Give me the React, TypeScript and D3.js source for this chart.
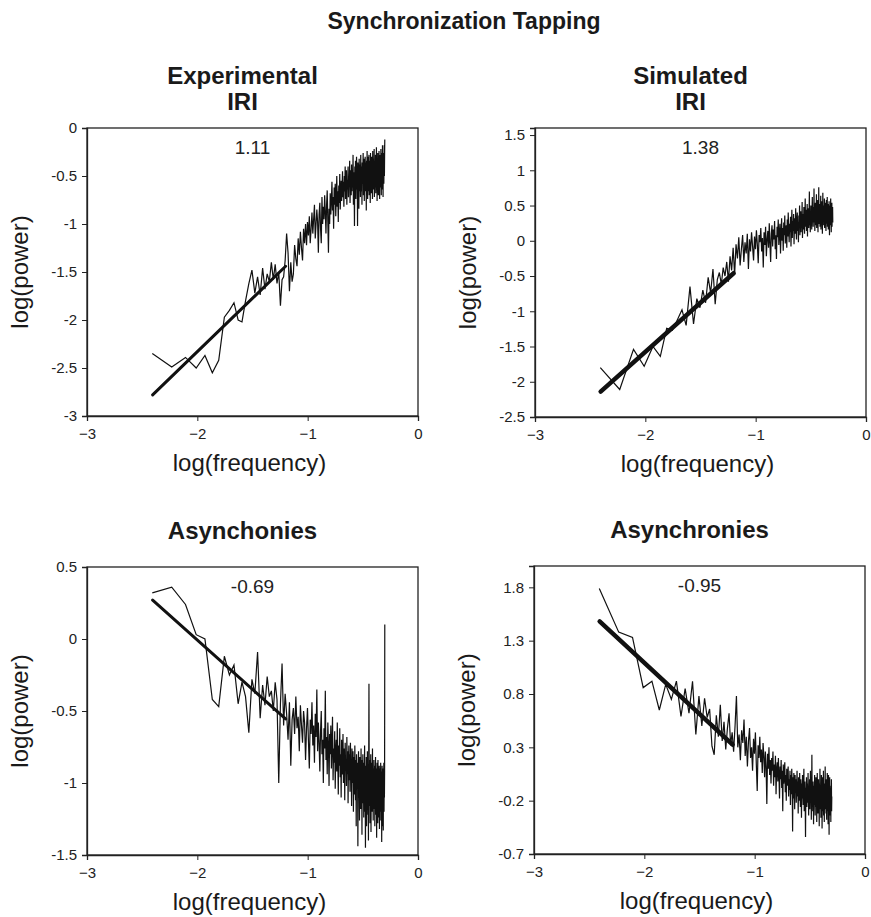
import React, { useEffect, useRef } from 'react';
import * as d3 from 'd3';

// spectral bins k = 2..256 of a 512-point series (x = log10(k / 512))
const binIndex = d3.range(2, 257);
const N_POINTS = 512;

// log(power), one value per bin
const expIRI = [
  -2.35, -2.49, -2.39, -2.50, -2.37, -2.55, -2.42, -1.97,
  -1.90, -1.82, -2.00, -2.02, -1.80, -1.62, -1.48, -1.72,
  -1.55, -1.74, -1.46, -1.68, -1.52, -1.60, -1.40, -1.58,
  -1.42, -1.62, -1.50, -1.85, -1.58, -1.55, -1.38, -1.10,
  -1.30, -1.70, -1.40, -1.60, -1.52, -1.22, -1.36, -1.44,
  -1.15, -1.32, -1.08, -1.25, -1.38, -1.05, -1.20, -1.00,
  -1.22, -0.98, -1.12, -0.92, -1.20, -1.05, -0.88, -1.10,
  -0.95, -0.80, -1.15, -1.00, -0.85, -0.98, -1.30, -0.90,
  -0.78, -1.05, -1.20, -0.72, -1.00, -0.82, -0.95, -0.70,
  -0.88, -1.10, -0.80, -0.65, -0.98, -1.30, -0.84, -1.00,
  -0.68, -0.90, -0.75, -0.56, -0.86, -0.72, -1.05, -0.62,
  -0.80, -0.58, -0.92, -0.72, -0.50, -0.82, -0.66, -0.98,
  -0.60, -0.78, -0.48, -0.85, -0.68, -0.55, -0.76, -0.62,
  -0.45, -0.72, -0.56, -0.82, -0.50, -0.66, -0.40, -0.74,
  -0.58, -0.44, -0.80, -0.54, -0.64, -0.40, -0.72, -0.50,
  -0.60, -0.34, -0.78, -0.52, -0.44, -0.70, -0.38, -0.66,
  -0.48, -0.62, -0.28, -0.80, -0.46, -0.58, -1.02, -0.40,
  -0.66, -0.34, -0.74, -0.50, -0.30, -0.64, -0.45, -1.02,
  -0.36, -0.60, -0.44, -0.84, -0.32, -0.66, -0.48, -0.38,
  -0.72, -0.28, -0.54, -0.66, -0.40, -0.80, -0.36, -0.58,
  -0.44, -0.26, -0.70, -0.50, -0.32, -0.76, -0.42, -0.60,
  -0.30, -0.66, -0.46, -0.36, -0.86, -0.34, -0.62, -0.24,
  -0.54, -0.74, -0.40, -0.30, -0.66, -0.46, -0.28, -0.70,
  -0.42, -0.58, -0.34, -0.78, -0.26, -0.52, -0.64, -0.36,
  -0.68, -0.30, -0.56, -0.44, -0.74, -0.24, -0.60, -0.40,
  -0.32, -0.64, -0.48, -0.22, -0.72, -0.42, -0.34, -0.62,
  -0.46, -0.28, -0.68, -0.38, -0.56, -0.20, -0.64, -0.40,
  -0.76, -0.32, -0.50, -0.26, -0.60, -0.42, -0.70, -0.30,
  -0.48, -0.24, -0.66, -0.38, -0.74, -0.28, -0.56, -0.44,
  -0.34, -0.62, -0.22, -0.50, -0.70, -0.32, -0.44, -0.26,
  -0.64, -0.42, -0.18, -0.54, -0.36, -0.72, -0.30, -0.48,
  -0.26, -0.58, -0.38, -0.18, -0.50, -0.28, -0.12
];

const simIRI = [
  -1.80, -2.11, -1.54, -1.78, -1.50, -1.64, -1.24, -1.27,
  -1.12, -0.98, -1.20, -0.65, -1.18, -0.82, -0.95, -0.70,
  -0.88, -0.52, -0.74, -0.40, -0.90, -0.55, -0.45, -0.62,
  -0.38, -0.50, -0.30, -0.58, -0.22, -0.42, -0.10, -0.48,
  -0.05, -0.25, 0.05, -0.35, -0.12, 0.08, -0.30, -0.02,
  -0.18, 0.10, -0.40, 0.02, -0.15, 0.12, -0.08, -0.28,
  0.06, -0.12, 0.15, -0.05, -0.32, 0.08, -0.02, 0.18,
  -0.15, 0.04, -0.38, 0.12, -0.06, 0.20, -0.22, 0.02,
  0.14, -0.10, 0.25, -0.04, -0.30, 0.10, 0.22, -0.08,
  0.16, 0.02, 0.28, -0.12, 0.08, -0.26, 0.20, 0.05,
  0.30, -0.06, 0.12, 0.24, -0.18, 0.10, 0.32, 0.00,
  0.18, -0.14, 0.26, 0.08, 0.36, -0.04, 0.14, 0.22,
  -0.10, 0.30, 0.06, 0.40, 0.16, -0.02, 0.24, 0.12,
  0.34, -0.08, 0.20, 0.44, 0.04, 0.28, 0.14, 0.38,
  -0.05, 0.22, 0.32, 0.10, 0.46, 0.18, 0.02, 0.30,
  0.40, 0.14, 0.26, -0.02, 0.36, 0.20, 0.50, 0.08,
  0.28, 0.42, 0.12, 0.34, 0.22, 0.55, 0.04, 0.30,
  0.38, 0.16, 0.48, 0.24, 0.10, 0.36, 0.60, 0.20,
  0.32, 0.44, 0.14, 0.28, 0.52, 0.06, 0.38, 0.26,
  0.46, 0.18, 0.34, 0.70, 0.22, 0.40, 0.12, 0.30,
  0.50, 0.24, 0.36, 0.16, 0.44, 0.62, 0.28, 0.38,
  0.20, 0.48, 0.32, 0.74, 0.26, 0.42, 0.14, 0.36,
  0.54, 0.22, 0.40, 0.30, 0.66, 0.18, 0.46, 0.34,
  0.28, 0.58, 0.12, 0.44, 0.36, 0.76, 0.24, 0.40,
  0.32, 0.52, 0.20, 0.46, 0.30, 0.64, 0.16, 0.38,
  0.48, 0.26, 0.56, 0.34, 0.10, 0.42, 0.68, 0.28,
  0.36, 0.50, 0.22, 0.44, 0.32, 0.60, 0.18, 0.40,
  0.30, 0.54, 0.26, 0.46, 0.14, 0.38, 0.58, 0.24,
  0.42, 0.34, 0.62, 0.20, 0.48, 0.30, 0.52, 0.16,
  0.36, 0.44, 0.26, 0.56, 0.32, 0.08, 0.40, 0.50,
  0.22, 0.46, 0.34, 0.60, 0.28, 0.38, 0.12, 0.44,
  0.30, 0.54, 0.20, 0.42, 0.36, 0.48, 0.26
];

const expAsync = [
  0.32, 0.36, 0.24, 0.03, 0.00, -0.42, -0.47, -0.12,
  -0.25, -0.18, -0.45, -0.30, -0.40, -0.65, -0.28, -0.38,
  -0.09, -0.55, -0.32, -0.46, -0.26, -0.40, -0.36, -0.50,
  -0.30, -0.42, -1.00, -0.45, -0.17, -0.60, -0.38, -0.52,
  -0.70, -0.44, -0.88, -0.56, -0.48, -0.66, -0.40, -0.62,
  -0.54, -0.78, -0.46, -0.60, -0.72, -0.50, -0.58, -0.84,
  -0.62, -0.48, -0.70, -0.90, -0.56, -0.66, -0.44, -0.74,
  -0.60, -0.86, -0.52, -0.68, -0.35, -0.78, -0.58, -0.72,
  -0.92, -0.64, -0.50, -0.80, -0.70, -1.00, -0.62, -0.76,
  -0.36, -0.84, -0.68, -0.94, -0.58, -0.74, -1.02, -0.66,
  -0.80, -0.60, -0.90, -0.72, -0.54, -0.98, -0.76, -0.86,
  -0.64, -1.04, -0.78, -0.70, -0.92, -0.58, -0.84, -1.08,
  -0.74, -0.88, -0.62, -0.96, -0.80, -1.10, -0.70, -0.86,
  -0.94, -0.66, -1.00, -0.82, -0.76, -1.12, -0.72, -0.90,
  -0.84, -1.02, -0.68, -0.94, -0.78, -1.14, -0.86, -0.74,
  -0.98, -0.80, -1.06, -0.72, -0.92, -0.84, -1.16, -0.76,
  -0.88, -1.00, -0.78, -1.20, -0.90, -0.82, -1.08, -0.74,
  -0.96, -1.12, -0.84, -1.30, -0.80, -0.98, -1.04, -0.86,
  -1.44, -0.92, -0.78, -1.10, -0.94, -1.26, -0.82, -1.02,
  -0.88, -1.18, -0.76, -1.06, -0.90, -1.36, -0.84, -1.00,
  -0.80, -1.14, -0.92, -1.24, -0.86, -1.04, -0.74, -1.20,
  -0.96, -1.45, -0.88, -1.08, -0.82, -1.30, -0.94, -1.12,
  -0.78, -1.02, -1.22, -0.90, -1.40, -0.86, -0.31, -0.98,
  -1.16, -0.84, -1.28, -0.94, -1.04, -0.80, -1.34, -0.92,
  -1.10, -0.86, -1.20, -0.98, -0.76, -1.14, -0.90, -1.26,
  -0.96, -1.08, -0.84, -1.00, -1.18, -0.88, -1.30, -0.94,
  -1.06, -0.82, -1.22, -0.96, -1.12, -0.90, -1.38, -1.00,
  -0.86, -1.16, -0.94, -1.28, -0.84, -1.08, -0.98, -1.24,
  -0.92, -1.14, -0.88, -1.32, -1.02, -0.96, -1.20, -0.90,
  -1.10, -0.86, -1.26, -0.98, -1.06, -0.92, -1.41, -1.00,
  -0.88, -1.18, -0.96, -1.30, -0.90, -1.12, -1.33, -0.94,
  -1.04, -0.86, -1.20, -0.98, -1.10, -0.92, 0.10
];

const simAsync = [
  1.79, 1.38, 1.33, 0.86, 0.92, 0.65, 0.89, 0.75,
  0.92, 0.59, 0.85, 0.62, 0.92, 0.42, 0.78, 0.50,
  0.76, 0.58, 0.66, 0.31, 0.23, 0.60, 0.40, 0.70,
  0.36, 0.54, 0.28, 0.48, 0.62, 0.32, 0.44, 0.26,
  0.50, 0.78, 0.30, 0.42, 0.18, 0.46, 0.34, 0.56,
  0.22, 0.40, 0.12, 0.36, 0.48, 0.20, 0.30, 0.08,
  0.38, 0.24, 0.44, 0.14, -0.11, 0.32, 0.20, 0.40,
  0.16, 0.28, 0.06, 0.34, 0.22, 0.02, 0.26, 0.12,
  -0.23, 0.24, 0.10, 0.30, 0.04, 0.18, -0.04, 0.20,
  0.08, 0.26, -0.06, 0.14, 0.02, 0.22, -0.14, 0.10,
  0.16, -0.02, 0.20, 0.04, -0.18, 0.12, 0.00, 0.18,
  -0.08, 0.08, -0.30, 0.14, -0.04, 0.06, 0.16, -0.12,
  0.04, -0.20, 0.10, -0.06, 0.02, 0.12, -0.16, 0.00,
  -0.10, 0.08, -0.24, 0.04, -0.14, 0.10, -0.04, -0.49,
  0.02, -0.18, 0.06, -0.08, -0.28, 0.04, -0.12, 0.00,
  -0.22, -0.06, 0.08, -0.16, -0.02, -0.32, 0.02, -0.10,
  -0.20, 0.06, -0.14, -0.26, 0.00, -0.08, -0.36, -0.04,
  -0.18, 0.04, -0.12, -0.24, -0.06, 0.10, -0.30, -0.10,
  -0.02, -0.20, -0.54, -0.08, -0.16, 0.02, -0.26, -0.12,
  -0.04, -0.22, 0.06, -0.14, -0.34, -0.06, -0.18, 0.00,
  -0.28, -0.10, 0.08, -0.20, -0.04, -0.38, -0.14, 0.23,
  -0.22, -0.08, -0.30, -0.02, -0.16, -0.42, -0.06, -0.24,
  -0.12, 0.04, -0.20, -0.34, -0.08, -0.18, 0.02, -0.26,
  -0.10, -0.40, -0.14, 0.06, -0.22, -0.06, -0.32, -0.16,
  0.00, -0.24, -0.12, -0.44, -0.04, -0.20, 0.10, -0.28,
  -0.14, -0.06, -0.36, -0.18, 0.04, -0.26, -0.10, -0.46,
  -0.20, 0.02, -0.30, -0.12, -0.22, 0.08, -0.34, -0.08,
  -0.16, -0.40, -0.04, -0.24, -0.14, 0.12, -0.28, -0.18,
  -0.06, -0.32, -0.20, 0.00, -0.38, -0.12, -0.24, 0.06,
  -0.30, -0.16, -0.08, -0.42, -0.22, 0.04, -0.26, -0.14,
  -0.52, -0.10, -0.20, 0.02, -0.34, -0.18, -0.08, -0.28,
  -0.12, -0.40, -0.06, -0.22, 0.00, -0.30, -0.16
];

// fitted lines (start and end in log frequency, then log power)
const fitX = [-2.405, -1.2];
const fitExpIRI = [-2.78, -1.44];
const fitSimIRI = [-2.14, -0.46];
const fitExpAsync = [0.27, -0.555];
const fitSimAsync = [1.48, 0.325];

const slopes = ['1.11', '1.38', '-0.69', '-0.95'];
const titles = [['Experimental', 'IRI'], ['Simulated', 'IRI'], ['Asynchonies'], ['Asynchronies']];
const xTicks = [-3, -2, -1, 0];
const yTicksExpIRI = [-3, -2.5, -2, -1.5, -1, -0.5, 0];
const yTicksSimIRI = [-2.5, -2, -1.5, -1, -0.5, 0, 0.5, 1, 1.5];
const yTicksExpAsync = [-1.5, -1, -0.5, 0, 0.5];
const yTicksSimAsync = [-0.7, -0.2, 0.3, 0.8, 1.3, 1.8];

const FONT = 'Arial, "Liberation Sans", Helvetica, sans-serif';

const App = () => {
  const ref = useRef(null);

  useEffect(() => {
    const svg = d3.select(ref.current);
    svg.selectAll('*').remove();

    const panels = [
      { x0: 87, y0: 128, y1: 416, yDomain: [-3, 0], ticks: yTicksExpIRI, data: expIRI, fit: fitExpIRI, fitW: 3, title: titles[0], slope: slopes[0] },
      { x0: 535, y0: 128, y1: 417, yDomain: [-2.5, 1.6], ticks: yTicksSimIRI, data: simIRI, fit: fitSimIRI, fitW: 4.5, title: titles[1], slope: slopes[1] },
      { x0: 87, y0: 567, y1: 855, yDomain: [-1.5, 0.5], ticks: yTicksExpAsync, data: expAsync, fit: fitExpAsync, fitW: 3, title: titles[2], slope: slopes[2] },
      { x0: 534, y0: 566, y1: 854, yDomain: [-0.7, 2.0], ticks: yTicksSimAsync, data: simAsync, fit: fitSimAsync, fitW: 4.5, title: titles[3], slope: slopes[3] },
    ];

    svg.append('text')
      .attr('x', 464).attr('y', 29)
      .attr('text-anchor', 'middle')
      .attr('font-family', FONT).attr('font-size', 23).attr('font-weight', 'bold')
      .attr('fill', '#1a1a1a')
      .text('Synchronization Tapping');

    panels.forEach(p => {
      const w = 331;
      const x = d3.scaleLinear().domain([-3, 0]).range([p.x0, p.x0 + w]);
      const y = d3.scaleLinear().domain(p.yDomain).range([p.y1, p.y0]);
      const g = svg.append('g');
      const cx = p.x0 + w / 2;

      // panel title
      p.title.forEach((t, i) => {
        g.append('text')
          .attr('x', cx - 10)
          .attr('y', p.y0 - (p.title.length === 2 ? 44 : 28) + i * 26)
          .attr('text-anchor', 'middle')
          .attr('font-family', FONT).attr('font-size', 24).attr('font-weight', 'bold')
          .attr('fill', '#1a1a1a')
          .text(t);
      });

      // frame
      g.append('rect')
        .attr('x', p.x0).attr('y', p.y0)
        .attr('width', w).attr('height', p.y1 - p.y0)
        .attr('fill', 'none').attr('stroke', '#222').attr('stroke-width', 1.3);

      // axes
      g.append('g')
        .attr('transform', `translate(0,${p.y1})`)
        .call(d3.axisBottom(x).tickValues(xTicks).tickFormat(d3.format('d')).tickSize(5).tickPadding(7))
        .call(a => a.select('.domain').attr('stroke', '#222').attr('stroke-width', 1.3))
        .call(a => a.selectAll('line').attr('stroke', '#222'))
        .call(a => a.selectAll('text').attr('font-family', FONT).attr('font-size', 15).attr('fill', '#222'));

      g.append('g')
        .attr('transform', `translate(${p.x0},0)`)
        .call(d3.axisLeft(y).tickValues(p.ticks).tickFormat(d => String(d)).tickSize(5).tickPadding(5))
        .call(a => a.select('.domain').attr('stroke', '#222').attr('stroke-width', 1.3))
        .call(a => a.selectAll('line').attr('stroke', '#222'))
        .call(a => a.selectAll('text').attr('font-family', FONT).attr('font-size', 15).attr('fill', '#222'));

      // axis titles
      g.append('text')
        .attr('x', cx - 3).attr('y', p.y1 + 55)
        .attr('text-anchor', 'middle')
        .attr('font-family', FONT).attr('font-size', 24).attr('fill', '#1a1a1a')
        .text('log(frequency)');

      g.append('text')
        .attr('transform', `translate(${p.x0 - 59},${(p.y0 + p.y1) / 2}) rotate(-90)`)
        .attr('text-anchor', 'middle')
        .attr('font-family', FONT).attr('font-size', 24).attr('fill', '#1a1a1a')
        .text('log(power)');

      // spectrum
      const pts = binIndex.map((k, i) => [Math.log10(k / N_POINTS), p.data[i]]);
      g.append('path')
        .datum(pts)
        .attr('fill', 'none')
        .attr('stroke', '#111')
        .attr('stroke-width', 1.2)
        .attr('d', d3.line().x(d => x(d[0])).y(d => y(d[1])));

      // fitted line
      g.append('path')
        .datum(fitX.map((fx, i) => [fx, p.fit[i]]))
        .attr('fill', 'none')
        .attr('stroke', '#111')
        .attr('stroke-width', p.fitW)
        .attr('stroke-linecap', 'round')
        .attr('d', d3.line().x(d => x(d[0])).y(d => y(d[1])));

      // slope label
      g.append('text')
        .attr('x', cx).attr('y', p.y0 + 26)
        .attr('text-anchor', 'middle')
        .attr('font-family', FONT).attr('font-size', 19).attr('fill', '#222')
        .text(p.slope);
    });
  }, []);

  return (
    <svg ref={ref} width={871} height={917}
      style={{ position: 'absolute', left: 0, top: 0, background: '#fff' }} />
  );
};

export default App;
